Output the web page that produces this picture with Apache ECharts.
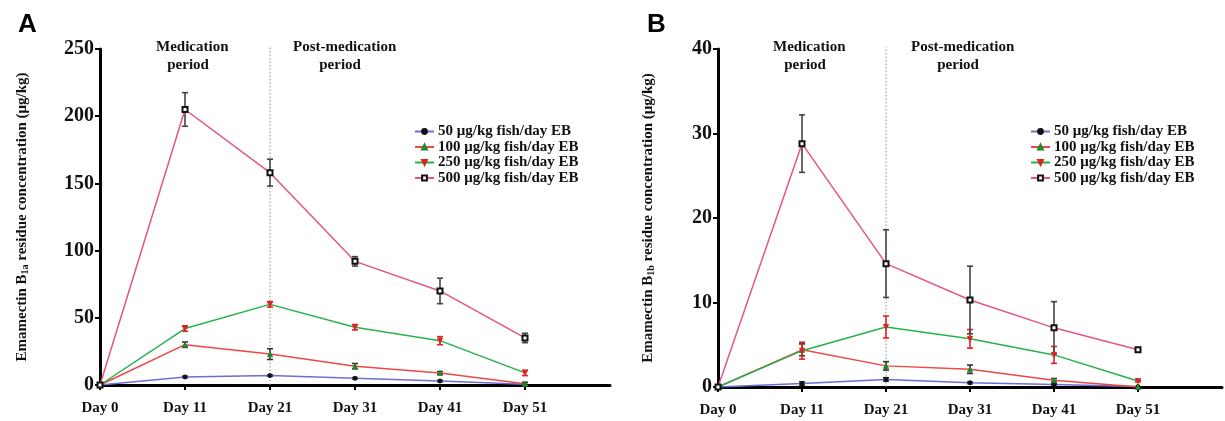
<!DOCTYPE html>
<html>
<head>
<meta charset="utf-8">
<script src="https://cdn.jsdelivr.net/npm/echarts@6/dist/echarts.min.js"></script>
<style>
  html, body { margin: 0; padding: 0; background: #fff; }
  #chart { width: 1225px; height: 421px; }
</style>
</head>
<body>
<div id="chart"></div>
<script>
// x categories (last one empty: axis runs on one step past Day 51)
var days = ["Day 0", "Day 11", "Day 21", "Day 31", "Day 41", "Day 51", ""];
var names = ["50 μg/kg fish/day EB", "100 μg/kg fish/day EB", "250 μg/kg fish/day EB", "500 μg/kg fish/day EB"];

// panel A - emamectin B1a (mean, error)
var a50 = [0, 6, 7, 5, 3, 0.5];
var a50Err = [0, 0.5, 0.5, 0.5, 0.5, 0.3];
var a100 = [0, 30, 23, 14, 9, 1];
var a100Err = [0, 2, 4, 2, 1, 1];
var a250 = [0, 42, 60, 43, 33, 9];
var a250Err = [0, 2, 2, 2, 3, 2];
var a500 = [0, 205, 158, 92, 70, 35];
var a500Err = [0, 12.5, 10, 3.5, 9.5, 3.5];

// panel B - emamectin B1b
var b50 = [0, 0.4, 0.9, 0.5, 0.3, 0.05];
var b50Err = [0, 0.2, 0.2, 0.1, 0.1, 0];
var b100 = [0, 4.4, 2.5, 2.1, 0.8, 0];
var b100Err = [0, 0.7, 0.5, 0.5, 0.2, 0];
var b250 = [0, 4.3, 7.1, 5.7, 3.8, 0.7];
var b250Err = [0, 1.0, 1.3, 1.1, 1.0, 0.1];
var b500 = [0, 28.8, 14.6, 10.3, 7.0, 4.4];
var b500Err = [0, 3.4, 4.0, 4.0, 3.1, 0.2];

var serif = "Liberation Serif";

var styles = [
  { line: "#6d6dd8", symbol: "circle", size: 4, color: "#111", border: "#111", rot: 0, err: "#222" },
  { line: "#ef4646", symbol: "triangle", size: 5, color: "#1c8a2c", border: "#1c8a2c", rot: 0, err: "#333" },
  { line: "#25b24c", symbol: "triangle", size: 5, color: "#e02222", border: "#e02222", rot: 180, err: "#e02222" },
  { line: "#e6538c", symbol: "rect", size: 5, color: "#fff", border: "#111", rot: 0, err: "#444" }
];

function errorSeries(idx, means, errs, color) {
  var data = means.map(function (m, i) { return [i, m - errs[i], m + errs[i]]; });
  return {
    type: "custom",
    xAxisIndex: idx, yAxisIndex: idx,
    silent: true,
    z: 3,
    data: data,
    renderItem: function (params, api) {
      var x = api.value(0);
      var lo = api.coord([x, api.value(1)]);
      var hi = api.coord([x, api.value(2)]);
      if (Math.abs(hi[1] - lo[1]) < 1) return;
      var st = { stroke: color, lineWidth: 1.6 };
      return {
        type: "group",
        children: [
          { type: "line", shape: { x1: lo[0], y1: lo[1], x2: hi[0], y2: hi[1] }, style: st },
          { type: "line", shape: { x1: lo[0] - 3, y1: lo[1], x2: lo[0] + 3, y2: lo[1] }, style: st },
          { type: "line", shape: { x1: hi[0] - 3, y1: hi[1], x2: hi[0] + 3, y2: hi[1] }, style: st }
        ]
      };
    }
  };
}

// dotted separator between medication / post-medication periods
function dividerSeries(idx, top) {
  return {
    type: "custom",
    xAxisIndex: idx, yAxisIndex: idx,
    silent: true,
    z: 2,
    data: [[2, 0, top]],
    renderItem: function (params, api) {
      var lo = api.coord([api.value(0), api.value(1)]);
      var hi = api.coord([api.value(0), api.value(2)]);
      return {
        type: "line",
        shape: { x1: lo[0], y1: lo[1], x2: hi[0], y2: hi[1] - 2 },
        style: { stroke: "#8a8a8a", lineWidth: 1, lineDash: [1.5, 2] }
      };
    }
  };
}

function panelSeries(idx, sets, top) {
  var out = [dividerSeries(idx, top)];
  sets.forEach(function (s, k) {
    out.push(errorSeries(idx, s[0], s[1], styles[k].err));
  });
  sets.forEach(function (s, k) {
    var st = styles[k];
    out.push({
      type: "line",
      name: names[k],
      xAxisIndex: idx, yAxisIndex: idx,
      data: s[0],
      symbol: st.symbol,
      symbolSize: st.size,
      symbolRotate: st.rot,
      showAllSymbol: true,
      z: 4,
      lineStyle: { color: st.line, width: 1.5 },
      itemStyle: { color: st.color, borderColor: st.border, borderWidth: st.symbol === "rect" ? 2 : 1 },
      emphasis: { disabled: true }
    });
  });
  return out;
}

var seriesA = panelSeries(0, [[a50, a50Err], [a100, a100Err], [a250, a250Err], [a500, a500Err]], 250);
var seriesB = panelSeries(1, [[b50, b50Err], [b100, b100Err], [b250, b250Err], [b500, b500Err]], 40);

function xAxis(idx) {
  return {
    type: "category", gridIndex: idx, data: days, boundaryGap: false,
    axisLine: { lineStyle: { color: "#000", width: 3 } },
    axisTick: { length: 5, lineStyle: { color: "#000", width: 2 },
      interval: function (i, v) { return v !== ""; } },
    axisLabel: { color: "#111", fontFamily: serif, fontWeight: "bold", fontSize: 15, margin: 16 },
    splitLine: { show: false }
  };
}

function yAxis(idx, max, interval, sub, gap) {
  return {
    type: "value", gridIndex: idx, min: 0, max: max, interval: interval,
    name: "{a|Emamectin B}{s|" + sub + "}{a| residue concentration (μg/kg)}",
    nameLocation: "middle", nameRotate: 90, nameGap: gap,
    nameTextStyle: {
      rich: {
        a: { fontFamily: serif, fontWeight: "bold", fontSize: 15, color: "#111", lineHeight: 18 },
        s: { fontFamily: serif, fontWeight: "bold", fontSize: 10, color: "#111", lineHeight: 18, padding: [7, 0, 0, 0] }
      }
    },
    axisLine: { show: true, lineStyle: { color: "#000", width: 3 } },
    axisTick: { show: true, length: 5, lineStyle: { color: "#000", width: 2 } },
    axisLabel: { color: "#111", fontFamily: serif, fontWeight: "bold", fontSize: 20, margin: 6 },
    splitLine: { show: false }
  };
}

function legend(left) {
  return {
    orient: "vertical", left: left, top: 119,
    itemWidth: 19, itemHeight: 6, itemGap: 0.5,
    selectedMode: false,
    data: names,
    textStyle: { fontFamily: serif, fontWeight: "bold", fontSize: 15, color: "#111", padding: [0, 0, 0, -1] }
  };
}

var chart = echarts.init(document.getElementById("chart"));
chart.setOption({
  backgroundColor: "#fff",
  animation: false,
  grid: [
    { left: 100, top: 49, width: 510, height: 336 },
    { left: 718, top: 49, width: 508, height: 338 }
  ],
  xAxis: [xAxis(0), xAxis(1)],
  yAxis: [yAxis(0, 250, 50, "1a", 69), yAxis(1, 40, 10, "1b", 61)],
  legend: [legend(409), legend(1025)],
  graphic: [
    { type: "text", left: 18, top: 12, style: { text: "A", font: "bold 26px Liberation Sans", fill: "#000" } },
    { type: "text", left: 647, top: 12, style: { text: "B", font: "bold 26px Liberation Sans", fill: "#000" } },
    { type: "text", left: 156, top: 38, style: { text: "Medication\n   period", font: "bold 15px " + serif, fill: "#111", lineHeight: 18 } },
    { type: "text", left: 293, top: 38, style: { text: "Post-medication\n       period", font: "bold 15px " + serif, fill: "#111", lineHeight: 18 } },
    { type: "text", left: 773, top: 38, style: { text: "Medication\n   period", font: "bold 15px " + serif, fill: "#111", lineHeight: 18 } },
    { type: "text", left: 911, top: 38, style: { text: "Post-medication\n       period", font: "bold 15px " + serif, fill: "#111", lineHeight: 18 } }
  ],
  series: seriesA.concat(seriesB)
});
</script>
</body>
</html>
